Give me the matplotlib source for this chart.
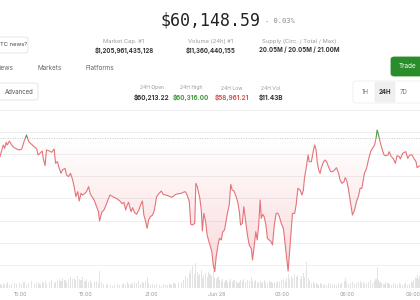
import numpy as np
import pandas as pd
import matplotlib
matplotlib.use("Agg")
import matplotlib.pyplot as plt
import matplotlib.dates as mdates
import matplotlib.transforms as mtransforms
from matplotlib.colors import to_rgb
from matplotlib.patches import FancyBboxPatch, Rectangle
from matplotlib.path import Path

plt.rcParams['font.family'] = ['Inter', 'DejaVu Sans']

# minutes after 14:04 on Jun 27
minutes = [0, 5, 9, 13, 17, 20, 26, 32, 39, 46,
           53, 60, 66, 73, 79, 87, 94, 101, 105, 110,
           116, 119, 124, 128, 136, 142, 149, 153, 158, 163,
           168, 172, 179, 183, 189, 194, 200, 204, 209, 214,
           218, 223, 227, 234, 238, 244, 248, 253, 259, 266,
           271, 274, 280, 286, 292, 297, 303, 310, 316, 323,
           330, 336, 341, 346, 350, 354, 358, 361, 365, 370,
           376, 382, 387, 392, 396, 401, 405, 409, 414, 420,
           425, 431, 438, 444, 449, 456, 462, 468, 473, 479,
           484, 492, 499, 504, 510, 515, 521, 525, 530, 536,
           539, 543, 547, 550, 554, 557, 561, 566, 570, 575,
           578, 583, 587, 591, 595, 600, 604, 609, 613, 618,
           622, 626, 631, 635, 639, 644, 650, 655, 659, 662,
           667, 671, 675, 681, 686, 692, 695, 700, 704, 708,
           712, 716, 719, 723, 727, 732, 736, 741, 746, 750,
           755, 760, 765, 769, 774, 780, 785, 789, 793, 796,
           802, 805, 811, 815, 820, 826, 831, 835, 838, 844,
           848, 851, 857, 862, 866, 870, 873, 877, 881, 884,
           890, 894, 899, 904, 910, 915, 921, 926, 932, 936,
           941, 947, 950, 954, 959, 965, 970, 976, 981, 987,
           991, 996, 1000, 1003, 1009, 1014, 1020, 1025, 1031, 1035,
           1038, 1042, 1046, 1051, 1057, 1062, 1068, 1071, 1077, 1082,
           1088, 1093, 1099, 1102, 1108, 1113, 1117, 1122, 1128, 1134,
           1139, 1145, 1148, 1152, 1156]

# BTC price in USD
price = [60076, 60136, 60181, 60151, 60205, 60181, 60217, 60181, 60157, 60145,
         60136, 60145, 60211, 60271, 60211, 60187, 60166, 60145, 60091, 60106,
         60127, 60061, 59995, 60136, 60127, 60115, 60145, 60016, 60031, 59971,
         59926, 59956, 59971, 59911, 59896, 59926, 59866, 59806, 59716, 59761,
         59677, 59746, 59731, 59746, 59761, 59806, 59746, 59716, 59686, 59626,
         59581, 59497, 59575, 59596, 59641, 59686, 59731, 59716, 59707, 59695,
         59677, 59653, 59665, 59596, 59641, 59665, 59611, 59581, 59617, 59575,
         59557, 59596, 59641, 59677, 59551, 59491, 59431, 59506, 59536, 59551,
         59596, 59716, 59746, 59767, 59737, 59731, 59725, 59716, 59710, 59725,
         59737, 59743, 59746, 59755, 59761, 59731, 59671, 59467, 59461, 59476,
         59836, 59806, 59746, 59701, 59596, 59407, 59566, 59491, 59371, 59311,
         59281, 59221, 59101, 59041, 59176, 59281, 59341, 59326, 59401, 59416,
         59491, 59566, 59641, 59827, 59776, 59767, 59716, 59656, 59575, 59461,
         59476, 59626, 59521, 59371, 59281, 59245, 59146, 59281, 59401, 59326,
         59461, 59686, 59521, 59557, 59536, 59461, 59341, 59326, 59311, 59281,
         59461, 59566, 59566, 59536, 59476, 59431, 59281, 59161, 59047, 59176,
         59431, 59566, 59566, 59641, 59791, 59776, 59731, 59776, 59881, 60001,
         60091, 60031, 60031, 60121, 60181, 60136, 60031, 59956, 59926, 59971,
         60025, 60046, 60031, 59986, 59941, 59941, 59956, 59977, 59926, 59866,
         59836, 59851, 59887, 59866, 59785, 59656, 59551, 59596, 59671, 59725,
         59791, 59791, 59866, 59926, 59971, 60046, 60121, 60151, 60181, 60241,
         60316, 60271, 60211, 60151, 60091, 60085, 60091, 60121, 60076, 60061,
         60016, 60085, 60076, 60055, 60106, 60115, 60121, 60061, 60091, 60091,
         60061, 60031, 59977, 59986, 59995]

# traded volume per bar, million USD
volume_musd = [20, 15, 25, 15, 20, 30, 15, 20, 25, 20,
               25, 20, 30, 15, 25, 35, 20, 25, 30, 20,
               30, 25, 35, 20, 30, 40, 25, 30, 35, 45,
               35, 50, 40, 30, 45, 55, 45, 50, 40, 60,
               45, 40, 55, 35, 45, 30, 40, 25, 30, 35,
               25, 85, 30, 20, 15, 20, 15, 10, 15, 20,
               15, 20, 25, 15, 30, 20, 15, 25, 20, 30,
               25, 35, 20, 30, 25, 35, 55, 25, 15, 20,
               15, 20, 15, 10, 20, 15, 15, 20, 15, 25,
               20, 25, 30, 40, 60, 50, 75, 90, 110, 70,
               125, 80, 60, 70, 90, 50, 65, 75, 55, 80,
               70, 60, 85, 50, 45, 55, 40, 35, 45, 30,
               40, 30, 35, 45, 30, 40, 35, 25, 30, 40,
               35, 45, 30, 40, 35, 55, 35, 30, 40, 25,
               30, 35, 25, 30, 40, 30, 25, 35, 30, 25,
               30, 25, 35, 30, 40, 45, 35, 50, 70, 45,
               60, 50, 70, 55, 65, 45, 60, 75, 55, 130,
               50, 35, 25, 30, 20, 25, 20, 15, 25, 20,
               15, 20, 15, 25, 20, 15, 20, 15, 25, 20,
               25, 35, 50, 30, 20, 25, 30, 20, 25, 30,
               35, 25, 30, 20, 25, 30, 40, 25, 35, 45,
               105, 40, 30, 25, 20, 30, 25, 20, 15, 25,
               20, 15, 25, 20, 15, 20, 25, 15, 20, 30,
               40, 50, 65, 45, 60]

start = pd.Timestamp("2024-06-27 14:04")
ref_level = 60247
grid_levels = [60500, 60300, 60100, 59900, 59700, 59500, 59300, 59100]
tick_times = ["2024-06-27 15:00", "2024-06-27 18:00", "2024-06-27 21:00",
              "2024-06-28 00:00", "2024-06-28 03:00", "2024-06-28 06:00",
              "2024-06-28 09:00"]
tick_labels = ["15:00", "18:00", "21:00", "Jun 28", "03:00", "06:00", "09:00"]

headline = "$60,148.59"
change = "- 0.03%"
summary_labels = ["Market Cap. #1", "Volume (24h) #1", "Supply (Circ. / Total / Max)"]
summary_values = ["$1,205,961,435,128", "$11,360,440,155", "20.05M / 20.05M / 21.00M"]
stat_labels = ["24H Open", "24H High", "24H Low", "24H Vol."]
stat_values = ["$60,213.22", "$60,316.00", "$58,961.21", "$11.43B"]
tabs = ["iews", "Markets", "Platforms"]
ranges = ["1H", "24H", "7D"]

RED = '#e5737a'
GREEN = '#4d9e4d'

W, H = 420, 300


def fx(x):
    return x / W


def fy(y):
    return 1 - y / H


def box(fig, x0, y0, x1, y1, fc, ec, r=0.008):
    p = FancyBboxPatch((fx(x0), fy(y1)), fx(x1) - fx(x0), fy(y0) - fy(y1),
                       boxstyle=f"round,pad=0,rounding_size={r}",
                       transform=fig.transFigure, fc=fc, ec=ec, lw=0.6)
    fig.add_artist(p)


fig = plt.figure(figsize=(4.2, 3), dpi=100)

# header
fig.text(fx(211), fy(20), headline, ha='center', va='center', fontsize=12,
         family='DejaVu Sans Mono', color='#222222')
fig.text(fx(265), fy(21), change, ha='left', va='center', fontsize=5,
         family='DejaVu Sans Mono', color='#8a8a8a')

box(fig, -5, 37, 28, 53, 'white', '#e2e2e2')
fig.text(fx(0), fy(45), "TC news?", ha='left', va='center', fontsize=4.2, color='#444444')

for cx, lab, val in zip([124, 211, 299], summary_labels, summary_values):
    fig.text(fx(cx), fy(41), lab, ha='center', va='center', fontsize=4.2, color='#9a9a9a')
    fig.text(fx(cx), fy(50), val, ha='center', va='center', fontsize=4.4,
             fontweight='bold', color='#333333')

for x, t in zip([0, 38, 85], tabs):
    fig.text(fx(x), fy(68), t, ha='left', va='center', fontsize=4.6, color='#666666')

box(fig, 391, 57, 424, 76, '#2a8c2a', '#2a8c2a')
fig.text(fx(408), fy(66.5), "Trade", ha='center', va='center', fontsize=4.6, color='white')

box(fig, -5, 83, 38, 100, 'white', '#e2e2e2')
fig.text(fx(5), fy(92), "Advanced", ha='left', va='center', fontsize=4.4, color='#555555')

stat_colors = ['#333333', '#3f9a3f', '#d9534f', '#333333']
for cx, lab, val, c in zip([152, 191, 232, 271], stat_labels, stat_values, stat_colors):
    fig.text(fx(cx), fy(88), lab, ha='center', va='center', fontsize=3.6, color='#9a9a9a')
    fig.text(fx(cx), fy(97.5), val, ha='center', va='center', fontsize=4.6,
             fontweight='bold', color=c)

box(fig, 353, 81, 426, 103, 'white', '#eeeeee')
box(fig, 375, 82, 395, 102, '#efefef', '#efefef', r=0.004)
for cx, t in zip([365, 385, 404], ranges):
    fig.text(fx(cx), fy(92.5), t, ha='center', va='center', fontsize=4.4,
             fontweight='bold' if t == '24H' else 'normal',
             color='#333333' if t == '24H' else '#777777')

# chart
times = start + pd.to_timedelta(minutes, unit='min')
xnum = mdates.date2num(times)
x0, x1 = xnum[0], xnum[-1]

vax = fig.add_axes([0, 12 / H, 1, 30 / H])
vax.bar(xnum, volume_musd, width=3 / 1440, color='#e3e3e3', lw=0)
vax.set_xlim(x0, x1)
vax.set_ylim(0, 150)
vax.axis('off')

ax = fig.add_axes([0, 10 / H, 1, 185 / H])
ax.set_facecolor('none')
for g in grid_levels:
    ax.axhline(g, color='#efefef', lw=0.7, zorder=0)
ax.axhline(ref_level, color='#c6c6c6', lw=0.7, ls=(0, (1, 1.5)), zorder=1)

price_arr = np.array(price)
poly = ax.fill_between(xnum, price_arr, ref_level, where=price_arr < ref_level,
                       interpolate=True, color='none', lw=0)
clip = Path.make_compound_path(*poly.get_paths())
poly.remove()
grad = np.zeros((120, 1, 4))
grad[..., :3] = to_rgb('#ea5f66')
grad[:, 0, 3] = np.linspace(0.0, 0.24, 120)
im = ax.imshow(grad, extent=[x0, x1, 59000, ref_level], aspect='auto',
               interpolation='bilinear', zorder=1)
im.set_clip_path(clip, ax.transData)

trans = mtransforms.blended_transform_factory(ax.transAxes, ax.transData)
below = Rectangle((0, 58000), 1, ref_level - 58000, transform=trans)
above = Rectangle((0, ref_level), 1, 62000 - ref_level, transform=trans)
red, = ax.plot(xnum, price, color=RED, lw=0.8, zorder=3)
red.set_clip_path(below)
green, = ax.plot(xnum, price, color=GREEN, lw=0.8, zorder=3)
green.set_clip_path(above)

ax.set_xlim(x0, x1)
ax.set_ylim(58876, 60541)
ax.set_yticks([])
ax.set_xticks(mdates.date2num(pd.to_datetime(tick_times)))
ax.set_xticklabels(tick_labels)
ax.tick_params(axis='x', length=0, pad=1.2, labelsize=3.8, colors='#9a9a9a')
for s in ax.spines.values():
    s.set_visible(False)

fig.savefig("out.png", dpi=100)
